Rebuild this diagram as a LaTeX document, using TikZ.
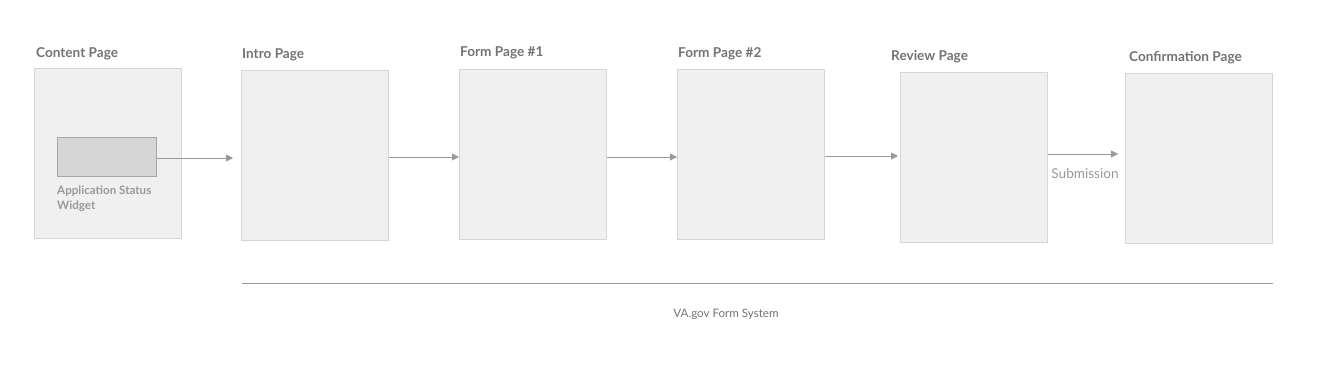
\documentclass[tikz,border=0pt]{standalone}
\usepackage{fontspec}
\setmainfont{Lato}
\usetikzlibrary{arrows.meta}
\definecolor{pagefill}{HTML}{F0F0F0}
\definecolor{pageline}{HTML}{D6D6D6}
\definecolor{widgetfill}{HTML}{D6D6D6}
\definecolor{widgetline}{HTML}{A6A6A6}
\definecolor{titlecol}{HTML}{737373}
\definecolor{softcol}{HTML}{999999}
\definecolor{arrowcol}{HTML}{999999}
\tikzset{
  pagebox/.style={draw=pageline, fill=pagefill, line width=1pt, minimum width=147pt, minimum height=170pt, inner sep=0pt, anchor=north west},
  widgetbox/.style={draw=widgetline, fill=widgetfill, line width=1pt, minimum width=99pt, minimum height=39pt, inner sep=0pt, anchor=north west},
  pagetitle/.style={font=\fontsize{13.6}{15}\selectfont\bfseries, text=titlecol, anchor=base west, inner sep=0pt},
  flow/.style={draw=arrowcol, line width=0.9pt, -{Triangle[length=7pt,width=7pt]}},
  softtext/.style={text=softcol, inner sep=0pt}
}
\begin{document}
\begin{tikzpicture}[x=1pt,y=-1pt]
\useasboundingbox (0,0) rectangle (1321,367);
\node[pagebox] (content) at (34,68) {};
\node[pagebox] (intro) at (241,70) {};
\node[pagebox] (form1) at (459,69) {};
\node[pagebox] (form2) at (677,69) {};
\node[pagebox] (review) at (900,72) {};
\node[pagebox] (confirm) at (1125,73) {};
\node[widgetbox] (widget) at (57,137) {};

\node[pagetitle] (tcontent) at (36,57) {Content Page};
\node[pagetitle] (tintro) at (242,58) {Intro Page};
\node[pagetitle] (tform1) at (460,56) {Form Page \#1};
\node[pagetitle] (tform2) at (678,57) {Form Page \#2};
\node[pagetitle] (treview) at (891,60) {Review Page};
\node[pagetitle] (tconfirm) at (1129,61) {Confirmation Page};

\node[softtext, font=\fontsize{11.6}{15.5}\selectfont\bfseries, align=left, anchor=north west] (wlabel) at (57,185.5) {Application Status\\Widget};

\coordinate (wend) at (233,158);
\draw[flow] (widget.east |- wend) -- (wend);
\draw[flow] (intro.east |- 0,157) -- (form1.west |- 0,157);
\draw[flow] (form1.east |- 0,157) -- (form2.west |- 0,157);
\draw[flow] (form2.east |- 0,156) -- ([xshift=-2pt]review.west |- 0,156);
\draw[flow] (review.east |- 0,154) -- ([xshift=-7pt]confirm.west |- 0,154);
\node[softtext, font=\fontsize{13.6}{15}\selectfont, anchor=center] (sub) at (1085,174) {Submission};

\coordinate (la) at (242,283);
\coordinate (lb) at (1273,283);
\draw[draw=arrowcol, line width=0.9pt] (la) -- (lb);
\node[font=\fontsize{11.6}{13}\selectfont, text=titlecol, inner sep=0pt] (sys) at (726,314) {VA.gov Form System};
\end{tikzpicture}
\end{document}
